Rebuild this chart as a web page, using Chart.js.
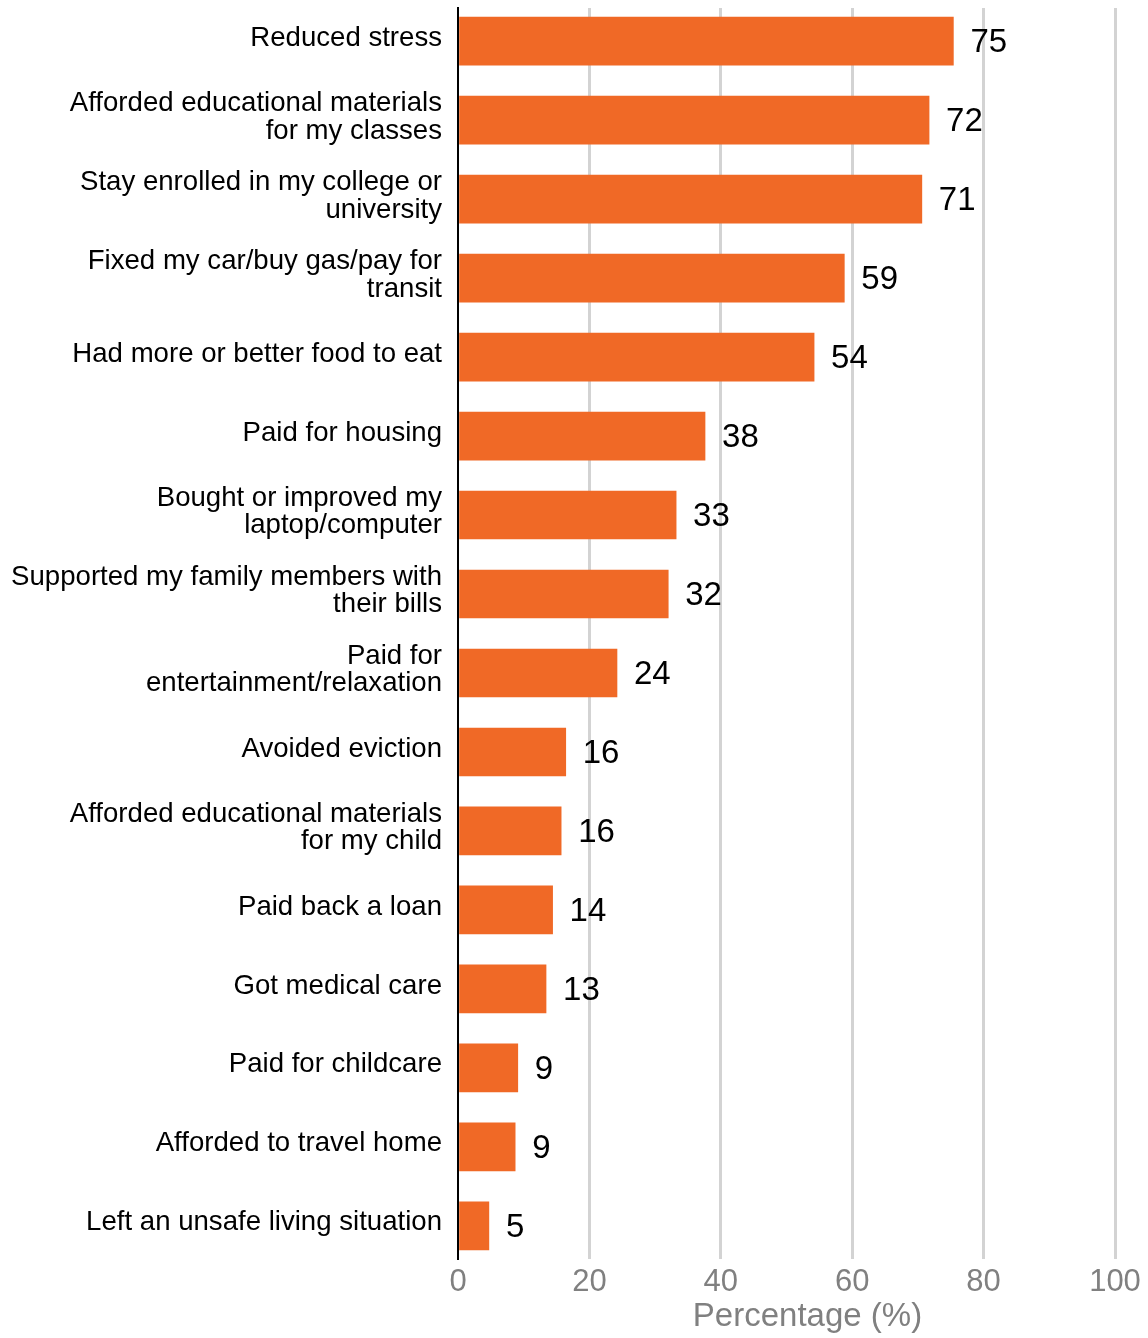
<!DOCTYPE html>
<html>
<head>
<meta charset="utf-8">
<script src="https://cdn.jsdelivr.net/npm/chart.js@4"></script>
<style>
  html, body { margin: 0; padding: 0; background: #fff; }
  #wrap { width: 1148px; height: 1338px; position: relative; }
</style>
</head>
<body>
<div id="wrap"><canvas id="usesChart"></canvas></div>
<script>
const categories = [
    ['Reduced stress'],
    ['Afforded educational materials', 'for my classes'],
    ['Stay enrolled in my college or', 'university'],
    ['Fixed my car/buy gas/pay for', 'transit'],
    ['Had more or better food to eat'],
    ['Paid for housing'],
    ['Bought or improved my', 'laptop/computer'],
    ['Supported my family members with', 'their bills'],
    ['Paid for', 'entertainment/relaxation'],
    ['Avoided eviction'],
    ['Afforded educational materials', 'for my child'],
    ['Paid back a loan'],
    ['Got medical care'],
    ['Paid for childcare'],
    ['Afforded to travel home'],
    ['Left an unsafe living situation']
];
const shares = [75.4, 71.7, 70.6, 58.8, 54.2, 37.6, 33.2, 32.0, 24.2, 16.4, 15.7, 14.4, 13.4, 9.1, 8.7, 4.7];
const xTicks = [0, 20, 40, 60, 80, 100];
const axisTitle = 'Percentage (%)';

(function () {
    const FONT = "'Liberation Sans', Arial, Helvetica, sans-serif";
    const ORANGE = '#f06926';
    const GREY = '#808080';

    const valueLabels = {
        id: 'valueLabels',
        afterDatasetsDraw(chart) {
            const ctx = chart.ctx;
            const meta = chart.getDatasetMeta(0);
            ctx.save();
            ctx.font = '33px ' + FONT;
            ctx.fillStyle = '#000';
            ctx.textAlign = 'left';
            ctx.textBaseline = 'middle';
            meta.data.forEach((bar, i) => {
                ctx.fillText(String(Math.round(shares[i])), bar.x + 17, bar.y + 2);
            });
            ctx.restore();
        }
    };

    const xTitle = {
        id: 'xTitle',
        afterDraw(chart) {
            const x = chart.scales.x;
            const ctx = chart.ctx;
            ctx.save();
            ctx.font = '33px ' + FONT;
            ctx.fillStyle = GREY;
            ctx.textAlign = 'center';
            ctx.textBaseline = 'middle';
            ctx.fillText(axisTitle, (x.left + x.right) / 2 + 21, x.bottom - 21);
            ctx.restore();
        }
    };

    const canvas = document.getElementById('usesChart');
    new Chart(canvas.getContext('2d'), {
        type: 'bar',
        data: {
            datasets: [{
                data: shares.map((v, i) => ({ x: v, y: i })),
                backgroundColor: ORANGE,
                borderWidth: 0,
                barThickness: 48
            }]
        },
        options: {
            indexAxis: 'y',
            responsive: true,
            maintainAspectRatio: false,
            animation: false,
            layout: { padding: { top: 8, right: 33, bottom: 0, left: 0 } },
            plugins: {
                legend: { display: false },
                tooltip: { enabled: false }
            },
            scales: {
                x: {
                    type: 'linear',
                    min: 0,
                    max: 100,
                    afterBuildTicks(scale) {
                        scale.ticks = xTicks.map(v => ({ value: v }));
                    },
                    afterFit(scale) { scale.height = 79; },
                    grid: {
                        color: ctx => ctx.tick && ctx.tick.value === 0 ? 'rgba(0,0,0,0)' : '#d3d3d3',
                        lineWidth: 3,
                        drawTicks: false
                    },
                    border: { display: false },
                    ticks: {
                        padding: 5,
                        color: GREY,
                        font: { family: FONT, size: 31 }
                    }
                },
                y: {
                    type: 'linear',
                    reverse: true,
                    offset: false,
                    min: -0.42,
                    max: categories.length - 1 + 0.42,
                    afterBuildTicks(scale) {
                        scale.ticks = categories.map((_, i) => ({ value: i }));
                    },
                    afterFit(scale) {
                        scale.width = 458;
                        scale.paddingTop = 0;
                        scale.paddingBottom = 0;
                    },
                    grid: { display: false, drawTicks: false },
                    border: { display: true, color: '#000', width: 2 },
                    ticks: {
                        padding: 16,
                        labelOffset: -3,
                        color: '#000',
                        font: { family: FONT, size: 27.6, lineHeight: 1.0 },
                        callback: v => categories[v]
                    }
                }
            }
        },
        plugins: [valueLabels, xTitle]
    });
})();
</script>
</body>
</html>
